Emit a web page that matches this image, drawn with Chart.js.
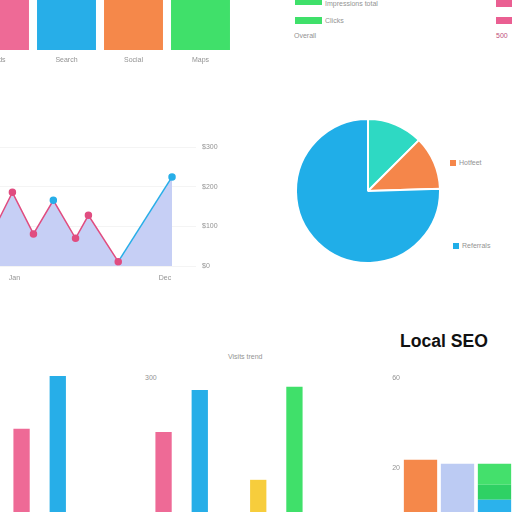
<!DOCTYPE html>
<html>
<head>
<meta charset="utf-8">
<script src="https://cdn.jsdelivr.net/npm/chart.js@4.4.1/dist/chart.umd.min.js"></script>
<style>
  html, body { margin: 0; padding: 0; width: 512px; height: 512px; overflow: hidden; background: #fff; }
  body { position: relative; font-family: 'Liberation Sans', Arial, sans-serif; }
  canvas { position: absolute; }
  .t { position: absolute; font-size: 7px; color: #939393; white-space: nowrap; line-height: 8px; }
  .box { position: absolute; }
</style>
</head>
<body>
<!-- top channel bars -->
<canvas id="topBars" width="268" height="130" style="left:-34px; top:-60px;"></canvas>

<!-- top right legend bits -->
<div class="box" style="left:295px; top:-3px; width:27px; height:8px; background:#3fe06a;"></div>
<div class="t" style="left:325px; top:0px;">Impressions total</div>
<div class="box" style="left:295px; top:17px; width:27px; height:7px; background:#3fe06a;"></div>
<div class="t" style="left:325px; top:17px;">Clicks</div>
<div class="t" style="left:294px; top:32px;">Overall</div>
<div class="box" style="left:496px; top:-1px; width:20px; height:8px; background:#ea5f92;"></div>
<div class="box" style="left:496px; top:17px; width:20px; height:7px; background:#ea5f92;"></div>
<div class="t" style="left:496px; top:32px; color:#c0507a;">500</div>

<!-- traffic line -->
<canvas id="trafficLine" width="250" height="147" style="left:-20px; top:137px;"></canvas>

<!-- share pie -->
<canvas id="sharePie" width="146" height="146" style="left:295px; top:118px;"></canvas>
<div class="box" style="left:450px; top:160px; width:6px; height:6px; background:#f5864a;"></div>
<div class="t" style="left:459px; top:159px;">Hotfeet</div>
<div class="box" style="left:453px; top:243px; width:6px; height:6px; background:#20aee8;"></div>
<div class="t" style="left:462px; top:242px;">Referrals</div>

<!-- bottom -->
<div style="position:absolute; left:400px; top:331px; font-size:17.6px; font-weight:bold; color:#111;">Local SEO</div>
<div class="t" style="left:228px; top:353px;">Visits trend</div>
<div class="t" style="left:145px; top:374px;">300</div>
<canvas id="groupBars" width="304" height="152" style="left:6px; top:360px;"></canvas>
<canvas id="seoBars" width="131" height="154" style="left:382px; top:365px;"></canvas>

<script>
Chart.defaults.font.family = "'Liberation Sans', Arial, sans-serif";
Chart.defaults.font.size = 7;
Chart.defaults.color = '#939393';
Chart.defaults.animation = false;
Chart.defaults.plugins.legend.display = false;
Chart.defaults.plugins.tooltip.enabled = false;

const pink = '#ee6a96';
const blue = '#27aee8';
const orange = '#f5884a';
const green = '#40e06a';
const yellow = '#f7cd3c';

// top bars
const channels = ['Ads', 'Search', 'Social', 'Maps'];
const channelValues = [80, 85, 75, 90];

// traffic line
const lineX = [0.5, 4.6, 8.2, 11.6, 15.4, 17.6, 22.7, 31.9];
const lineY = [65, 186, 81, 166, 70, 128, 11, 225];
const lineXTicks = [4.95, 30.7];
const lineXLabels = ['Jan', 'Dec'];
const lineYLabels = ['$0', '$100', '$200', '$300'];

// share pie
const shareLabels = ['Organic', 'Hotfeet', 'Referrals'];
const shareValues = [12.5, 12, 75.5];

// grouped bars
const groupLabels = ['Q1', '', '', 'Q2', '', 'Q3'];
const groupA = [186, null, null, 179, null, 72];
const groupB = [304, null, null, 273, null, 280];

// local seo stacked bars
const seoLabels = ['Maps', 'Reviews', 'Listings'];
const seoOrange = [23.6, null, null];
const seoLight = [null, 21.8, null];
const seoBlue = [null, null, 5.8];
const seoDark = [null, null, 6.7];
const seoGreen = [null, null, 9.3];
const seoTicks = [20, 60];
const seoTickLabels = ['20', '60'];

new Chart(document.getElementById('topBars'), {
    type: 'bar',
    data: {
        labels: channels,
        datasets: [{
            data: channelValues,
            backgroundColor: [pink, blue, orange, green],
            barPercentage: 0.88,
            categoryPercentage: 1
        }]
    },
    options: {
        responsive: false,
        layout: { padding: 0 },
        scales: {
            x: {
                grid: { display: false, drawTicks: false }, border: { display: false },
                ticks: { padding: 6 },
                afterFit: s => { s.height = 20; }
            },
            y: { display: false, min: 0, max: 100 }
        }
    }
});

const pinkLine = '#e04d80';
new Chart(document.getElementById('trafficLine'), {
    type: 'line',
    data: {
        datasets: [{
            data: lineX.map((x, i) => ({ x: x, y: lineY[i] })),
            borderColor: pinkLine,
            borderWidth: 1.5,
            segment: { borderColor: c => c.p1DataIndex === lineX.length - 1 ? blue : pinkLine },
            pointBackgroundColor: lineX.map((x, i) => (i === 3 || i === 7) ? blue : pinkLine),
            pointBorderColor: lineX.map((x, i) => (i === 3 || i === 7) ? blue : pinkLine),
            pointRadius: 3,
            fill: 'origin',
            backgroundColor: '#c6cff5',
            tension: 0
        }]
    },
    options: {
        responsive: false,
        layout: { padding: 0 },
        scales: {
            x: {
                type: 'linear', min: 0, max: 36,
                grid: { display: false, drawTicks: false }, border: { display: false },
                afterBuildTicks: s => { s.ticks = lineXTicks.map(v => ({ value: v })); },
                ticks: { padding: 8, maxRotation: 0, callback: (v, i) => lineXLabels[i] },
                afterFit: s => { s.height = 18; }
            },
            y: {
                position: 'right', min: 0, max: 300,
                grid: { color: 'rgba(0,0,0,0.045)', drawTicks: false },
                border: { display: false },
                ticks: { stepSize: 100, padding: 6, callback: (v, i) => lineYLabels[i] },
                afterFit: s => { s.width = 34; }
            }
        }
    }
});

new Chart(document.getElementById('sharePie'), {
    type: 'pie',
    data: {
        labels: shareLabels,
        datasets: [{
            data: shareValues,
            backgroundColor: ['#2ed9c3', '#f5864a', '#20aee8'],
            borderColor: '#fff',
            borderWidth: 2
        }]
    },
    options: { responsive: false, layout: { padding: 0 } }
});

new Chart(document.getElementById('groupBars'), {
    type: 'bar',
    data: {
        labels: groupLabels,
        datasets: [
            { data: groupA, backgroundColor: [pink, pink, pink, pink, pink, yellow], clip: false },
            { data: groupB, backgroundColor: [blue, blue, blue, blue, blue, green], clip: false }
        ]
    },
    options: {
        responsive: false,
        layout: { padding: { left: 10, right: 10 } },
        datasets: { bar: { categoryPercentage: 1.53, barPercentage: 0.45 } },
        scales: {
            x: { display: false },
            y: { display: false, min: 0, max: 340 }
        }
    }
});

new Chart(document.getElementById('seoBars'), {
    type: 'bar',
    data: {
        labels: seoLabels,
        datasets: [
            { data: seoOrange, backgroundColor: orange },
            { data: seoLight, backgroundColor: '#bccbf3' },
            { data: seoBlue, backgroundColor: '#2bb2ec' },
            { data: seoDark, backgroundColor: '#2fd164' },
            { data: seoGreen, backgroundColor: '#44e06c' }
        ]
    },
    options: {
        responsive: false,
        layout: { padding: 0 },
        datasets: { bar: { categoryPercentage: 1, barPercentage: 0.9 } },
        scales: {
            x: { display: false, stacked: true },
            y: {
                stacked: true, min: 0, max: 63,
                grid: { display: false, drawTicks: false }, border: { display: false },
                afterBuildTicks: s => { s.ticks = seoTicks.map(v => ({ value: v })); },
                ticks: { padding: 2, callback: (v, i) => seoTickLabels[i] },
                afterFit: s => { s.width = 20; }
            }
        }
    }
});
</script>
</body>
</html>
